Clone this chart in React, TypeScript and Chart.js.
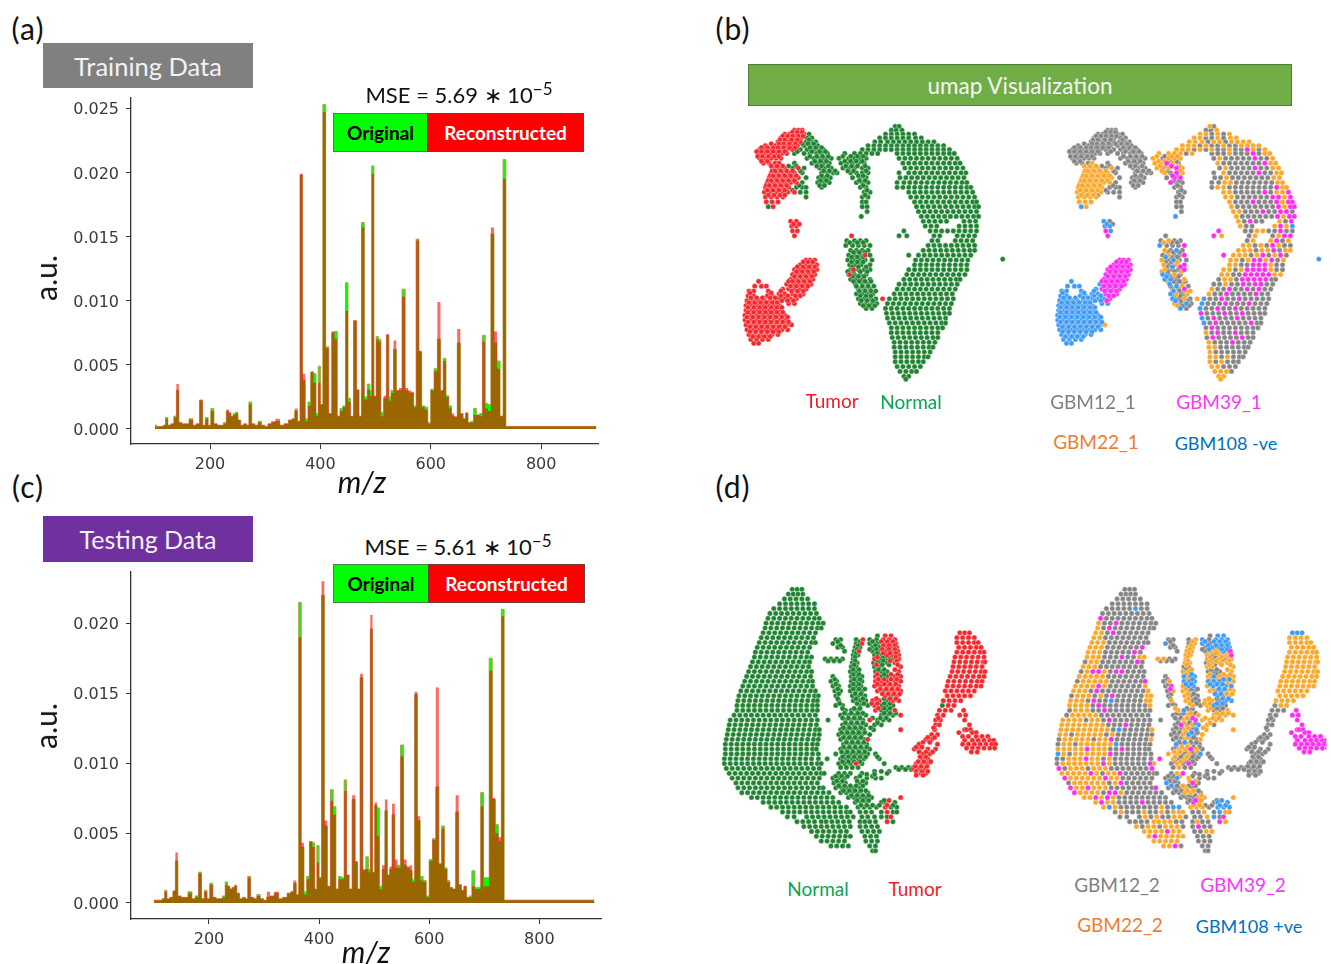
import React, { useEffect, useRef } from "react";
import { Chart, registerables } from "chart.js";
Chart.register(...registerables);

// ---- spectra: m/z stations and intensities (in thousandths of a.u.)
const mzStations = [
  100,106,112,118,121,126,132,137,141,146,
  152,158,166,172,178,184,189,194,199,204,
  210,216,222,227,232,236,240,244,248,253,
  258,264,268,273,278,284,290,296,302,308,
  314,323,330,338,346,351,356,361,365,370,
  375,380,385,390,394,398,402,407,412,418,
  423,428,433,438,443,448,452,457,463,468,
  472,477,482,488,491,495,499,503,507,512,
  517,522,526,530,535,540,545,551,556,562,
  567,571,576,581,586,592,597,603,609,615,
  620,625,630,635,640,645,651,656,661,665,
  670,675,680,686,691,696,701,706,712,717,
  723,728,734,738,745,900];
const trainOriginal = [
  .3,.2,.2,.3,.9,.3,.4,1.0,3.0,.5,
  .4,.4,.8,.3,.4,2.2,.3,.9,.3,1.6,
  .4,.3,.3,.5,1.4,1.2,1.0,1.2,1.3,.7,
  .3,.4,.3,2.1,.4,.3,.6,.3,.2,.4,
  .5,.6,.3,.4,.7,.8,1.4,.6,19.8,3.8,
  .8,2.1,4.4,4.3,1.2,4.9,1.9,25.3,6.4,1.2,
  7.5,7.6,1.0,1.6,1.8,11.4,2.4,1.0,8.4,3.0,
  1.0,16.1,2.5,3.5,3.0,20.5,2.5,7.2,7.0,1.3,
  2.4,7.3,2.5,3.0,6.2,3.0,3.0,10.9,3.0,2.8,
  2.8,1.8,14.8,6.0,1.8,1.7,.5,3.1,4.7,7.0,
  3.0,5.5,2.6,1.8,1.0,.9,6.7,1.2,.8,1.2,
  .5,.6,1.6,1.1,1.2,7.3,2.0,1.9,15.2,6.7,
  5.3,1.0,21.0,.2,.2,.2];
const trainReconstructed = [
  .2,.2,.2,.3,.8,.3,.4,.9,3.5,.5,
  .4,.4,.7,.3,.4,2.3,.3,.8,.3,1.4,
  .4,.3,.3,.4,1.5,1.3,1.0,1.1,1.2,.7,
  .3,.4,.3,1.9,.4,.3,.5,.3,.2,.4,
  .6,.8,.3,.4,.7,.8,1.6,.6,19.9,4.3,
  .6,1.8,4.5,3.6,1.0,3.6,1.9,24.7,6.3,1.2,
  7.6,7.0,1.0,1.4,1.7,9.2,2.1,1.0,8.5,3.1,
  1.0,15.7,2.3,3.1,2.6,19.9,2.6,7.0,6.8,1.0,
  2.6,7.4,2.2,2.8,6.9,3.0,3.2,10.3,3.2,3.0,
  2.9,1.7,14.7,6.1,1.7,1.5,.4,3.0,4.5,9.9,
  3.0,5.3,2.5,1.6,1.2,1.0,7.8,1.2,.8,1.3,
  .5,.5,1.1,1.1,1.0,6.8,1.6,1.4,15.7,7.6,
  4.7,1.0,19.5,.2,.2,.2];
const testOriginal = [
  .2,.2,.2,.3,.9,.3,.4,.8,3.0,.5,
  .4,.4,.8,.3,.5,2.2,.3,.9,.3,1.4,
  .4,.3,.3,.5,1.5,1.2,1.0,1.1,1.2,.7,
  .3,.4,.3,1.9,.4,.3,.6,.3,.2,.4,
  .5,.7,.3,.4,.7,.8,1.4,.6,21.5,4.0,
  .8,1.9,4.4,4.3,1.0,4.1,1.8,22.0,5.5,1.2,
  8.1,6.9,1.0,1.9,1.8,8.8,2.0,1.0,7.4,2.9,
  1.0,16.1,2.3,3.3,2.4,19.6,2.2,7.0,6.8,1.2,
  2.4,6.6,2.0,2.4,6.3,2.5,2.7,11.3,2.7,2.5,
  2.3,1.7,14.9,5.9,1.9,1.6,.5,3.1,4.6,8.3,
  2.8,5.5,2.5,1.6,1.1,1.0,6.5,1.3,.9,1.2,
  .4,.5,2.3,1.1,1.1,7.9,1.8,1.8,17.5,7.4,
  5.6,4.4,21.0,.2,.2,.2];
const testReconstructed = [
  .2,.2,.2,.3,.8,.3,.4,.9,3.6,.5,
  .4,.4,.7,.3,.4,2.1,.3,.8,.3,1.3,
  .4,.3,.3,.4,1.3,1.2,1.0,1.1,1.3,.7,
  .3,.4,.3,1.8,.4,.3,.5,.3,.2,.8,
  .5,.8,.3,.4,.7,.8,1.6,.6,19.0,4.3,
  .6,1.7,4.4,4.0,1.0,2.9,1.8,23.0,5.9,1.2,
  7.3,6.3,1.0,1.7,1.7,8.0,2.0,1.0,7.7,3.0,
  1.0,16.4,2.4,2.4,2.2,20.6,2.2,7.2,4.8,1.0,
  2.7,7.4,2.0,2.6,7.1,3.1,2.5,10.5,3.1,2.6,
  2.7,1.5,15.1,6.2,1.6,1.5,.4,3.0,4.5,15.4,
  2.8,5.3,2.4,1.5,1.1,1.0,7.7,1.3,.9,1.2,
  .4,.4,1.2,1.0,1.0,6.9,1.2,1.2,16.6,7.5,
  5.0,4.7,20.5,.2,.2,.2];
const xTickValues = [200, 400, 600, 800];
const trainYTicks = [0, .005, .01, .015, .02, .025];
const testYTicks = [0, .005, .01, .015, .02];

// ---- umap points, read row by row. [y, class, x, x, class, x ...]
// class letters: g GBM12, o GBM22, m GBM39, b GBM108; upper case = Tumor, lower case = Normal
type Row = (number | string)[];
const trainRows: Row[] = [
  [12,"o",176,"g",180],
  [16,"G",72,76,80,"g",172,177,"o",183],
  [20,"G",62,67,72,77,82,"g",87,"o",166,172,"g",178,"o",184,"g",190,"o",196],
  [24,"G",58,63,68,74,79,"g",85,90,"o",160,166,"g",172,178,"o",184,"g",190,"o",197,203],
  [28,"G",55,60,66,72,78,"g",84,89,94,"o",155,161,168,"g",174,"o",180,186,"g",192,"o",198,204,210,216],
  [32,"G",42,52,58,63,69,75,"g",82,90,96,"o",148,154,160,"g",166,"o",172,"g",178,184,"o",190,"g",196,202,"o",208,214,220,226],
  [36,"G",36,41,46,52,58,64,70,"g",78,85,92,97,102,"o",142,148,154,"g",160,"o",166,"g",172,"o",178,"g",184,190,"o",196,"g",202,208,"m",214,"o",220,"g",226,"o",232],
  [40,"G",35,41,47,53,59,64,"g",72,82,88,95,100,106,"o",124,134,140,146,"g",152,"o",158,"g",178,184,190,"o",196,"g",202,208,214,"m",220,"g",226,"o",232,237],
  [45,"G",36,42,48,53,58,"g",85,92,98,103,110,"o",118,"g",128,"o",134,140,146,"g",180,"o",186,"g",192,198,204,210,216,"m",222,"g",228,234,"o",240],
  [50,"G",40,46,52,"O",56,"g",72,90,96,102,108,"o",120,126,"m",132,"o",138,"g",144,"o",184,"g",190,196,202,208,214,220,226,"m",232,"o",238,243],
  [55,"O",50,56,62,"g",70,"O",76,"g",82,98,103,110,"o",122,"g",128,"o",134,"m",142,"o",148,"g",186,"o",192,"g",198,204,210,216,"m",222,"g",228,234,"o",240,246],
  [60,"O",48,54,60,66,72,"g",80,100,106,112,116,"o",130,"g",136,"m",142,"o",148,"g",180,"o",190,"g",196,202,208,214,220,"m",226,"g",232,238,"o",244,249],
  [65,"O",46,52,58,64,70,76,"g",84,97,103,109,132,"m",140,146,"g",181,187,"o",193,"g",199,205,211,217,223,229,235,"o",241,247],
  [70,"O",44,50,56,62,68,74,"g",80,96,102,108,"m",136,"g",142,148,178,185,"o",191,197,"g",203,209,215,221,227,233,239,"o",245,250],
  [75,"O",42,48,54,60,66,"g",74,80,84,100,140,146,178,"o",184,190,"g",196,202,208,214,220,226,232,238,"m",244,"o",250,254],
  [80,"O",41,47,53,59,65,"G",72,"g",78,84,144,150,"o",190,196,"g",202,208,214,220,226,"m",232,"g",238,"o",244,250,"m",256],
  [85,"O",42,48,54,60,"g",84,142,148,"o",192,198,"g",204,210,216,222,228,234,"m",240,246,"o",252,"m",258],
  [90,"O",43,49,55,"g",142,146,"o",196,"g",202,208,214,"m",220,"g",226,232,238,"m",244,"o",250,"m",256,260],
  [95,"b",45,"O",50,"g",142,147,"o",198,"g",204,210,216,222,228,234,240,"m",246,"o",252,"m",258,262],
  [100,"g",147,"o",200,206,"g",212,218,224,"m",230,"g",236,242,"m",248,254,"g",260],
  [105,"b",141,"o",203,"g",209,215,221,227,233,239,"m",245,"o",251,"m",257,262],
  [110,"B",68,"G",74,"o",205,"g",211,"m",217,"g",223,229,"o",247,"g",253,"m",259],
  [115,"B",69,74,"o",207,"g",213,219,"o",242,"m",248,"o",254,"b",260],
  [120,"M",70,"B",75,"m",185,"g",212,218,"o",224,230,"g",236,242,"m",248,"g",254,260],
  [125,"M",72,"G",131,"m",180,"o",188,"g",216,"o",222,"g",240,"o",246,"m",252,258],
  [130,"g",126,"o",134,"g",140,146,214,"o",220,238,"m",244,"g",250,"o",256],
  [135,"b",125,"g",132,138,144,"m",150,"o",210,216,"g",222,"o",228,"g",234,"m",240,"o",246,"g",252,258],
  [140,"o",130,"g",136,"b",142,"g",148,"o",205,211,217,"g",223,"o",229,235,"m",241,"g",247,"o",253,258],
  [145,"g",128,"o",134,"g",140,"G",145,"m",150,"m",190,"o",200,206,212,"g",218,"o",224,"m",230,"g",236,"o",242,"m",248,"g",254],
  [150,"M",84,88,93,"o",127,"g",133,"b",139,"g",145,152,"o",197,203,"g",209,"o",215,"m",221,227,"o",233,"m",239,"g",245,"o",251],
  [155,"M",78,84,90,95,"o",129,"g",135,"o",141,"m",150,"o",196,202,"g",208,214,"m",220,226,232,"o",238,"g",244,250],
  [160,"M",72,78,84,90,95,"o",130,"G",133,"g",138,144,"m",150,"o",190,196,"g",202,"o",208,"m",214,220,226,232,"o",238,"g",244,250],
  [165,"M",70,76,82,88,93,"b",128,"G",129,"g",134,"o",140,"g",146,"o",188,194,"g",200,206,"m",212,218,224,230,236,"o",242,248],
  [170,"M",68,74,80,86,91,"b",130,136,"g",142,"o",150,"g",185,"o",191,197,"g",203,"m",209,215,221,227,233,"g",239,243],
  [172,"B",35],
  [175,"B",64,"M",72,78,84,89,"b",135,"g",142,148,"g",180,186,"o",192,"g",198,204,"m",210,"g",216,"m",222,228,"g",234,240],
  [177,"B",31,38,43],
  [180,"B",60,"M",66,72,78,84,"g",138,144,"m",150,"o",178,"g",184,190,"m",196,"g",202,208,"m",214,"g",220,"m",226,"g",232,238],
  [182,"B",25,30,45],
  [185,"B",56,62,"M",70,76,81,"b",136,"o",142,"g",148,"o",153,"o",175,"g",181,187,"m",193,"g",199,205,211,217,"m",223,"g",229,235],
  [187,"B",24,30,44,49],
  [190,"B",55,62,68,"M",74,"b",138,"g",144,"o",150,"g",156,"O",163,"b",170,"g",176,182,"m",188,"g",194,200,"m",206,"g",212,218,224,230,236],
  [192,"B",23,29,35,41,47,52],
  [195,"B",66,72,"o",140,"g",146,"b",152,"g",157,"b",168,"g",174,180,186,"m",192,"g",198,204,210,"m",216,"g",222,228,234],
  [197,"B",22,28,34,40,46,52,56],
  [200,"b",146,"g",152,"b",166,"g",172,178,"m",184,"g",190,196,"m",202,"g",208,214,220,226,232],
  [202,"B",22,28,34,40,46,52,58],
  [205,"m",167,"g",173,179,185,"m",191,"g",197,203,"m",209,"g",215,221,227,232],
  [207,"B",21,27,33,39,45,51,57,62],
  [210,"b",168,"g",174,"m",180,"g",186,192,198,"m",204,"g",210,216,222,228],
  [212,"B",21,27,33,39,45,51,57,63],
  [215,"b",170,"g",176,"m",182,"g",188,194,200,206,212,"m",218,"g",224,228],
  [217,"B",22,28,34,40,46,52,58,64,"O",69],
  [220,"g",172,"m",178,"g",184,190,196,202,208,214,220,225],
  [222,"B",23,29,35,41,47,53,59,65],
  [225,"o",172,"g",178,"m",184,"g",190,196,"m",202,"g",208,214,220],
  [227,"B",25,31,37,43,49,55],
  [230,"g",173,"m",179,"g",185,191,197,203,"m",209,"g",215,220],
  [232,"B",27,33,39,45],
  [235,"o",175,"g",181,187,193,"m",199,"g",205,211,217],
  [236,"B",30,35],
  [240,"o",175,181,"g",187,193,199,205,211,215],
  [245,"o",176,"g",182,188,194,200,206,212],
  [250,"o",176,182,"g",188,"o",194,"g",200,206,210],
  [255,"o",176,"g",182,"o",188,"g",194,200,205],
  [260,"o",178,184,"g",190,196,202],
  [265,"o",181,187,193,"g",198],
  [270,"o",185,190],
  [273,"o",187],
  [149,"b",287],
  // second pass over the sparser clusters
  [18,"G",70,75,80],[22,"G",60,65,70,76,81],[26,"G",57,62,69,75,"g",87],
  [30,"G",48,56,61,67,73,"g",80,86,92],[34,"G",38,44,50,55,61,67,73,"g",88,94,100],
  [38,"G",33,38,44,50,56,62,"g",75,90,98,104],
  [43,"G",34,39,45,51,56,"g",88,95,101,107,"o",122,"g",130,"o",137,143],
  [48,"G",38,44,"g",93,99,105,"o",124,130,"g",136,142],
  [53,"O",48,54,60,"g",66,74,95,100,107,"o",125,131,"m",137,"o",145],
  [58,"O",49,52,58,64,70,"g",78,102,108,114,"o",127,"g",133,"o",146],
  [63,"O",47,50,56,62,68,74,"g",100,106,"m",138,"g",143],
  [68,"O",45,48,54,60,66,72,"g",99,105,139,145],
  [73,"O",43,46,52,58,64,"g",77,98,103,143],
  [78,"O",44,50,56,62,"g",70,147],[83,"O",45,51,57,"G",62,"g",145],
  [113,"B",71,"G",77],
  [132,"o",129,"g",137,143],[142,"g",133,139,145],[147,"b",131,"g",137,143],
  [152,"g",131,137,"o",143],[157,"g",132,"b",138,"m",146],[162,"o",127,"g",133,140,"o",147],
  [167,"b",132,"g",138,144],[172,"o",133,"g",139,145,151],[177,"g",136,"b",142,"o",148,"g",154],
  [182,"b",139,"g",145,"o",151,156],[187,"g",140,146,151],[192,"b",141,"g",147,153],[197,"o",143,"g",149,155],
  [184,"B",26,48],[189,"B",27,33,39,47,52],[194,"B",25,31,37,43,49,54],[199,"B",24,30,36,42,48,54,59],
  [204,"B",24,30,36,42,48,54,60],[209,"B",23,29,35,41,47,53,59,65],[214,"B",24,30,36,42,48,54,60,66],
  [219,"B",26,32,38,44,50,56,62],[224,"B",26,32,38,44,50,56],[229,"B",29,35,41,47],
  [152,"M",81,86,91],[157,"M",75,81,87,93],[162,"M",74,80,86,92],[167,"M",72,78,84,90],
  [172,"M",66,70,76,82,88],[177,"M",68,74,80,86],[182,"B",58,"M",69,75,81],[187,"B",58,65,"M",73,78],[192,"B",59,65,"M",71],
];
const testRows: Row[] = [
  [15,"g",80,85,90],
  [20,"g",76,81,86,91],
  [25,"g",72,78,84,90,96],
  [30,"g",67,73,79,85,91,97,103],
  [35,"g",61,67,73,79,85,"b",91,"g",97,103],
  [40,"g",57,63,69,75,81,87,93,99,105],
  [45,"m",55,"g",61,67,73,79,85,91,97,103,108],
  [50,"o",53,"g",59,65,"m",71,"g",77,83,89,95,101,107,112],
  [55,"o",52,"g",58,"m",64,"g",70,76,82,88,94,100,106,110],
  [60,"o",50,56,"g",62,"m",68,"g",74,80,86,92,98,104,"B",253,258,263],
  [65,"o",48,54,"g",60,66,72,78,84,90,96,102,"O",250,256,262,268],
  [70,"o",46,52,58,"g",64,70,76,82,88,94,100,104,"O",250,256,262,268,272],
  [75,"o",44,50,56,"g",62,68,74,80,86,92,"m",98,"O",252,258,264,270,275],
  [80,"o",42,48,54,"g",60,66,72,78,84,"m",90,"g",96,"O",250,256,262,268,274,278],
  [85,"o",41,47,53,"g",59,65,71,"m",77,"g",83,89,"o",95,100,"O",248,254,260,266,272,278],
  [90,"g",39,"o",45,51,"g",57,63,69,75,81,87,"m",93,"g",98,"O",247,253,259,265,271,277,279],
  [95,"o",37,43,49,"g",55,61,67,73,79,85,91,97,"O",246,252,258,264,270,276],
  [100,"g",35,"o",41,"m",47,53,"o",59,"g",65,"m",71,77,"g",83,89,95,100,"O",245,251,257,263,269,275,279],
  [105,"o",33,39,45,51,57,"g",63,69,75,81,87,93,99,"O",243,249,255,261,267,273,278],
  [110,"g",31,"o",37,43,49,55,61,"g",67,73,79,85,91,97,"m",101,"O",241,247,253,259,265,271,276],
  [115,"o",29,35,41,47,"m",53,"o",59,"g",65,71,77,83,89,95,"o",101,"O",240,246,252,258,264,270,275],
  [120,"o",27,33,39,"g",45,"m",51,"g",57,63,69,75,81,87,93,99,"o",104,"O",238,244,250,256,262,268],
  [125,"g",25,"o",31,37,43,"g",49,"o",55,"g",61,"m",67,"g",73,79,85,91,97,"o",103,107,"O",240,246,252,258,264],
  [130,"o",24,30,36,"g",42,"m",48,"g",54,60,"b",66,"g",72,78,84,90,96,"o",102,106,"O",236,242,248,254],
  [135,"o",23,29,35,41,"g",47,"m",53,"g",59,65,71,77,83,89,95,101,"o",106,"g",235,"O",241,247],
  [140,"g",23,"o",29,35,41,"g",47,53,"m",59,"g",65,71,77,83,89,95,101,106,"G",232,238,244,"M",257],
  [145,"g",20,"o",26,32,38,44,50,"g",56,62,68,74,80,86,92,98,104,"G",230,236,"M",253,259],
  [150,"o",16,22,28,34,"g",40,"o",46,52,"g",58,"m",64,"g",70,76,82,88,94,100,106,"G",228,233,"M",258],
  [155,"o",15,21,27,33,39,45,51,57,"g",63,69,75,"m",81,"g",87,93,99,105,"G",228,232,"M",263],
  [160,"o",14,20,26,32,38,44,50,56,62,"g",68,"b",74,"g",80,86,92,98,104,"o",108,"G",227,"M",258,260,264],
  [163,"M",252,266,270],
  [165,"o",13,19,"g",25,"o",31,37,43,49,55,"g",61,"o",67,"g",73,79,85,91,97,103,108,"G",224,230],
  [167,"M",256,262,270,276,282],
  [170,"g",12,"o",18,24,30,36,42,"g",48,"o",54,60,"m",66,"g",72,78,84,90,96,102,"o",107,"G",218,224],
  [171,"M",258,266,272,278,284,288],
  [175,"g",11,"o",17,23,"g",29,"o",35,41,47,53,59,65,"b",71,"g",77,83,89,95,101,106,"G",211,230,"M",256,262,268,274,280,286,290],
  [179,"M",260,266,272,278,284,289],
  [180,"o",11,17,23,29,35,"m",41,"o",47,53,59,"g",65,71,"m",77,"g",83,89,95,101,105,"G",206,212,220,228],
  [183,"M",265,271],
  [185,"b",11,"o",17,"g",23,"o",29,35,41,47,53,59,"m",65,"g",71,77,83,89,95,101,107,"G",215,222],
  [190,"g",10,16,"o",22,28,34,"m",40,"o",46,52,"g",58,"o",64,"g",70,76,82,88,94,100,107,"G",214,220],
  [195,"g",10,"o",16,22,28,34,40,46,52,"m",58,"o",64,"g",70,76,82,88,94,100,"m",106,"o",110,"G",208,214,220],
  [200,"m",12,"g",18,"o",24,30,36,"g",42,"o",48,54,60,"g",66,72,78,84,90,96,102,"m",108,"G",205,211,217],
  [205,"o",15,21,27,33,39,"m",45,"o",51,"g",57,"o",63,69,"m",75,"g",81,87,93,99,105,110,"G",213,218],
  [210,"m",18,"o",24,30,36,42,48,54,"m",60,"o",66,72,"g",78,84,90,96,102,108],
  [215,"g",22,"o",28,34,40,46,52,58,"g",64,"o",70,"m",76,"g",82,88,94,100,106],
  [220,"m",24,"o",30,36,"m",42,"o",48,54,60,"g",66,72,78,84,90,96,102,108,"m",112],
  [225,"m",28,"o",34,40,46,52,"g",58,"m",64,70,"o",76,"g",82,88,94,100,106,112,118],
  [230,"o",38,44,"m",50,"o",56,"m",62,"o",68,"g",74,80,86,92,98,104,110,116,122,"O",192],
  [235,"o",50,"m",56,"o",62,68,"g",74,80,86,92,"m",98,"g",104,110,116,122,128],
  [240,"o",58,"b",64,"o",70,"g",76,82,88,94,100,106,112,"o",118,"g",124,"b",130,136],
  [245,"g",70,"o",76,"g",82,88,94,"o",100,"g",106,112,"o",118,"g",124,"o",130,136,140],
  [250,"g",75,82,95,"o",101,"g",107,"o",113,"g",119,125,"o",131,137,"g",143],
  [255,"g",85,91,97,103,"o",110,115,121,127,"g",133,139,150,"o",155],
  [260,"o",92,"g",98,"o",104,110,"g",116,"o",122,128,134,"g",140,150,"m",156,"g",162,168],
  [265,"o",100,106,112,118,"m",124,"o",130,136,"g",152,158,"o",164,170],
  [270,"o",105,"m",111,"o",117,123,129,135,140,"g",155,161,167],
  [275,"o",110,116,122,128,134,"g",156,162,168],
  [280,"o",120,126,"m",132,"g",138,160,166],
  [285,"g",163,166],
  [63,"g",168,"B",176,182],
  [67,"g",125,130,146,"O",153,"b",160,"g",167,"B",174,180,186],
  [71,"b",122,"g",128,146,"O",152,"b",160,"g",168,"B",176,182,187],
  [75,"g",127,132,"o",145,150,"g",163,"b",170,"B",178,184,188],
  [79,"g",134,"o",144,"O",149,"g",163,"o",169,"O",176,"B",182,"M",189],
  [83,"o",143,148,165,"g",171,"O",178,184,"M",190],
  [87,"o",114,120,"g",126,132,"o",143,"O",165,"g",171,"o",177,"g",183,"O",190],
  [91,"o",142,147,"g",164,"o",170,178,"O",186],
  [95,"g",141,146,"o",165,170,"O",192],
  [100,"o",140,146,"g",166,172,178,"O",190],
  [105,"g",122,"b",141,"g",147,"b",152,"O",166,"b",172,"o",178,"O",186,192],
  [110,"g",120,"o",126,"b",141,147,152,"B",166,172,178,"O",186,192],
  [115,"g",122,"m",128,"o",140,"b",146,151,"O",165,"B",171,178,184,190],
  [120,"g",124,"o",130,140,"g",146,152,"O",168,"g",174,"B",180,"O",186,192],
  [125,"g",125,"o",142,"g",148,155,"B",176,"g",182,"O",188],
  [130,"o",128,143,"g",150,156,"O",163,170,"g",178,"B",184,190],
  [135,"g",125,132,"o",150,"g",158,"O",165,"b",172,"g",178,184],
  [140,"o",135,"b",141,"g",147,"O",166,"g",172,178,"O",186],
  [145,"g",130,138,"o",145,"g",150,"o",156,172,"g",178,"o",184,"O",192],
  [150,"g",117,135,"o",141,"g",147,"m",153,"O",160,"o",168,174,180],
  [155,"g",132,"m",138,"g",144,"o",150,"b",156,"o",165,"g",172],
  [160,"g",130,136,"o",142,"g",148,"b",154,"o",164,"O",192],
  [165,"g",128,134,"o",140,"b",146,"g",152,"o",160],
  [170,"g",130,136,"o",142,"g",148,154,"O",158],
  [175,"b",133,"g",139,"o",145,"g",151,157],
  [180,"g",130,"o",136,142,"m",148,"o",154,"g",160],
  [185,"o",125,134,"g",140,"o",146,"g",152,"b",158,"g",166],
  [190,"m",116,"o",130,"g",136,"o",142,"g",148,154,170],
  [195,"g",128,"o",134,"g",140,"M",146,"g",152,175],
  [199,"g",130,"o",136,"g",142,148,187,193,200,205],
  [203,"g",180,172,165],
  [205,"g",113,128,"o",134,"m",140,"g",152,178],
  [210,"g",122,128,"b",134,"o",146,"g",157,166,172],
  [215,"b",123,"g",129,135,"m",150,"g",156],
  [220,"g",125,131,137,"o",143,"g",150],
  [225,"g",130,136,"o",142,148,"g",158],
  [230,"g",138,144,150,"o",156,162],
  [235,"g",145,"m",151,"o",157,"g",172,"b",176,186],
  [240,"o",148,154,160,"g",167,"B",176,"b",182,188],
  [245,"g",150,156,"o",162,"g",172,"B",178,"o",184,188],
  [250,"g",152,158,"o",165,"b",172,"g",178,"M",182],
  [255,"g",160,166,"M",178,"o",184],
  // second pass over the sparser clusters
  [148,"G",231],[158,"G",226],[168,"G",220,227],[173,"G",215,222],[178,"G",208,214],[183,"G",211,218,225],
  [188,"G",212,218],[193,"G",210,216,223],[198,"G",207,213,219],[203,"G",208,214,220],[207,"G",208,215],
  [69,"g",127,"o",150,"b",163,"B",172,178,184],[73,"g",130,"o",148,"b",166,"B",174,180,186],
  [77,"o",147,"g",160,"b",167,"O",173,"B",180,186],[81,"o",146,"g",168,"O",174,181,187],
  [85,"o",145,"O",168,"g",174,"o",180,"O",187],[89,"g",117,123,129,"o",145,"g",167,"o",174,"O",181,188],
  [93,"o",144,"O",167,"g",173,"o",180,"O",189],[98,"g",143,"o",149,"g",169,175,"O",186],
  [103,"o",143,"b",149,"O",168,"g",175,"O",182,189],[108,"g",124,"o",144,"b",150,"O",169,175,"B",182,188],
  [113,"g",125,"b",143,149,"B",168,175,181,"O",187],[118,"m",127,"o",143,"g",149,155,"O",171,"B",177,183,"O",189],
  [123,"g",128,"o",145,"g",151,"B",173,179,"O",185,191],[128,"g",127,"o",146,"g",153,"O",167,"g",175,"B",181,187],
  [133,"g",129,"o",147,"g",154,"O",162,168,"b",175,181],[138,"o",132,"g",144,150,"O",169,"g",175,181],
  [143,"g",134,141,"o",148,"g",153,"o",175,181,187],[148,"g",132,138,"o",144,"m",150,"o",163,171,177],
  [153,"g",135,"o",141,"g",147,"b",153,"o",168],[158,"g",133,139,"o",145,"g",151,"o",161],
  [163,"g",131,137,"o",143,"b",149,"g",155],[168,"g",133,139,"o",145,"g",151],[173,"g",136,"b",142,"g",148,154],
  [178,"g",133,"o",139,145,"g",151,157],[183,"o",131,137,"g",143,149,"o",155],[188,"o",132,"g",138,"o",144,"g",150,156,168],
  [193,"g",132,"o",138,"g",144,150],[208,"g",125,131,"o",137,"g",150,163],[213,"g",126,132,"o",147,153],
  [218,"b",128,"g",134,"o",140,"g",146,153],[223,"g",133,139,"o",145,151,"g",156],[228,"g",141,147,153,"o",159],
  [233,"g",147,"m",153,"o",159,"g",175,"B",180],[238,"o",151,157,"g",163,170,"B",178,"b",184],
  [206,"g",157,165],[201,"g",190,197,203],
];

const lineColors: Record<string, string> = { g: "#858585", o: "#fba72a", m: "#ff2bf0", b: "#3f9bf5" };
const statusColors: Record<string, string> = { normal: "#1f8330", tumor: "#f4282d" };
const font = "Lato, 'Open Sans', sans-serif";

function expand(rows: Row[]) {
  const pts: { x: number; y: number; c: string }[] = [];
  for (const row of rows) {
    const y = row[0] as number;
    let c = "g";
    for (const v of row.slice(1)) {
      if (typeof v === "string") c = v;
      else pts.push({ x: v, y, c });
    }
  }
  return pts;
}

function makeUmap(canvas: HTMLCanvasElement, rows: Row[], mode: "status" | "line", xMin: number, xMax: number) {
  const pts = expand(rows);
  const pick = (f: (c: string) => boolean) => pts.filter((p) => f(p.c)).map((p) => ({ x: p.x, y: p.y }));
  const ds = (data: any[], color: string, order: number) => ({
    data, order, backgroundColor: color, borderColor: "rgba(255,255,255,0.5)",
    borderWidth: 0.7, pointRadius: 2.6,
  });
  const datasets = mode === "status"
    ? [ds(pick((c) => c === c.toLowerCase()), statusColors.normal, 1), ds(pick((c) => c !== c.toLowerCase()), statusColors.tumor, 0)]
    : [ds(pick((c) => c.toLowerCase() === "g"), lineColors.g, 3),
       ds(pick((c) => c.toLowerCase() === "o"), lineColors.o, 2),
       ds(pick((c) => c.toLowerCase() === "m"), lineColors.m, 0),
       ds(pick((c) => c.toLowerCase() === "b"), lineColors.b, 1)];
  return new Chart(canvas, {
    type: "scatter",
    data: { datasets },
    options: {
      animation: false, responsive: false, layout: { padding: 0 },
      plugins: { legend: { display: false }, tooltip: { enabled: false } },
      scales: {
        x: { type: "linear", display: false, min: xMin, max: xMax },
        y: { type: "linear", display: false, min: 0, max: 300, reverse: true },
      },
    },
  });
}

function makeSpectrum(canvas: HTMLCanvasElement, original: number[], recon: number[], yTicks: number[],
  xr: [number, number], yr: [number, number], leftW: number, bottomH: number, top: number, right: number) {
  const series = (vals: number[]) => vals.map((v, i) => ({ x: mzStations[i], y: v / 1000 }));
  const tickFont = { family: "'DejaVu Sans'", size: 16 };
  const line = (data: any[], color: string, edge: string, width: number, order: number) => ({
    data, order, showLine: true, fill: "origin", stepped: "middle", pointRadius: 0, borderWidth: width,
    backgroundColor: color, borderColor: edge,
  });
  return new Chart(canvas, {
    type: "scatter",
    data: { datasets: [
      line(series(original), "#00ff00", "#b59a4a", 1, 1),
      line(series(recon), "rgba(255,0,0,0.6)", "rgba(255,0,0,0)", 0, 0),
    ] as any },
    options: {
      animation: false, responsive: false,
      layout: { padding: { top, right, left: 0, bottom: 0 } },
      plugins: { legend: { display: false }, tooltip: { enabled: false } },
      scales: {
        x: {
          type: "linear", min: xr[0], max: xr[1],
          afterBuildTicks: (s: any) => { s.ticks = xTickValues.map((value) => ({ value })); },
          afterFit: (s: any) => { s.height = bottomH; s.paddingLeft = 0; s.paddingRight = 0; },
          ticks: { font: tickFont, color: "#3a3a3a", maxRotation: 0, padding: 6, callback: (v: any) => String(v) },
          grid: { drawOnChartArea: false, drawTicks: true, tickLength: 5, color: "#333" },
          border: { color: "#333", width: 1.3 },
        },
        y: {
          type: "linear", min: yr[0], max: yr[1],
          afterBuildTicks: (s: any) => { s.ticks = yTicks.map((value) => ({ value })); },
          afterFit: (s: any) => { s.width = leftW; s.paddingTop = 0; s.paddingBottom = 0; },
          ticks: { font: tickFont, color: "#3a3a3a", padding: 7, labelOffset: 2, callback: (v: any) => Number(v).toFixed(3) },
          grid: { drawOnChartArea: false, drawTicks: true, tickLength: 5, color: "#333" },
          border: { color: "#333", width: 1.3 },
        },
      },
    },
  });
}

const blur = "blur(0.55px)";

function Txt(p: { x: number; y: number; size: number; color?: string; weight?: number; italic?: boolean; rot?: number; spacing?: number; children: any }) {
  return (
    <div style={{
      position: "absolute", left: p.x, top: p.y, whiteSpace: "nowrap", fontFamily: font, fontSize: p.size,
      color: p.color ?? "#111", fontWeight: p.weight ?? 400, fontStyle: p.italic ? "italic" : "normal", lineHeight: 1,
      letterSpacing: p.spacing ?? 0, transform: `translate(-50%,-50%) rotate(${p.rot ?? 0}deg)`,
    }}>{p.children}</div>
  );
}

function Box(p: { x: number; y: number; w: number; h: number; bg: string; border?: string; color: string; size: number; weight?: number; children: any }) {
  return (
    <div style={{
      position: "absolute", left: p.x, top: p.y, width: p.w, height: p.h, boxSizing: "border-box", background: p.bg,
      border: `1px solid ${p.border ?? p.bg}`, display: "flex", alignItems: "center", justifyContent: "center",
      color: p.color, fontFamily: font, fontSize: p.size, fontWeight: p.weight ?? 400, whiteSpace: "nowrap",
    }}>{p.children}</div>
  );
}

function Mse(p: { x: number; y: number; value: string }) {
  return (
    <Txt x={p.x} y={p.y} size={22}>MSE = {p.value} ∗ 10<sup style={{ fontSize: 17, lineHeight: 0, verticalAlign: "0.5em" }}>−5</sup></Txt>
  );
}

export default function App() {
  const a = useRef<HTMLCanvasElement>(null);
  const c = useRef<HTMLCanvasElement>(null);
  const b1 = useRef<HTMLCanvasElement>(null);
  const b2 = useRef<HTMLCanvasElement>(null);
  const d1 = useRef<HTMLCanvasElement>(null);
  const d2 = useRef<HTMLCanvasElement>(null);
  useEffect(() => {
    const charts = [
      makeSpectrum(a.current!, trainOriginal, trainReconstructed, trainYTicks, [56.8, 903], [-0.00117, 0.0258], 71, 36, 8, 7),
      makeSpectrum(c.current!, testOriginal, testReconstructed, testYTicks, [58.4, 912], [-0.00115, 0.02367], 71, 45, 8, 7),
      makeUmap(b1.current!, trainRows, "status", 0, 300),
      makeUmap(b2.current!, trainRows, "line", -1.4, 294.6),
      makeUmap(d1.current!, testRows, "status", 0, 300),
      makeUmap(d2.current!, testRows, "line", -12, 288),
    ];
    return () => charts.forEach((ch) => ch.destroy());
  }, []);
  const cv = (l: number, t: number, w: number, h: number, r: any) => (
    <canvas ref={r} width={w} height={h} style={{ position: "absolute", left: l, top: t, width: w, height: h, filter: blur }} />
  );
  return (
    <div style={{ position: "absolute", left: 0, top: 0, width: 1331, height: 964, overflow: "hidden", background: "#fff" }}>
      {cv(60, 90, 545, 390, a)}
      {cv(60, 564, 548, 400, c)}
      {cv(720, 110, 300, 300, b1)}
      {cv(1031, 110, 300, 300, b2)}
      {cv(710, 570, 300, 300, d1)}
      {cv(1031, 570, 300, 300, d2)}

      <Txt x={28} y={28} size={30} spacing={1}>(a)</Txt>
      <Txt x={733} y={28} size={30} spacing={1}>(b)</Txt>
      <Txt x={28} y={486} size={30} spacing={1}>(c)</Txt>
      <Txt x={733} y={486} size={30} spacing={1}>(d)</Txt>

      <Box x={43} y={43} w={210} h={45} bg="#808080" color="#f2f2f2" size={25.5}>Training Data</Box>
      <Box x={43} y={516} w={210} h={46} bg="#7030a0" color="#f2f2f2" size={25}>Testing Data</Box>
      <Box x={748} y={64} w={544} h={42} bg="#70ad47" border="#507e32" color="#f5f5f5" size={22.5}>umap Visualization</Box>

      <Mse x={459} y={95} value="5.69" />
      <Box x={333} y={113} w={95} h={39} bg="#00ff00" border="#4d7f4d" color="#000" size={19} weight={700}>Original</Box>
      <Box x={427} y={113} w={157} h={39} bg="#ff0000" border="#6d4040" color="#fff" size={19} weight={700}>Reconstructed</Box>
      <Mse x={458} y={547} value="5.61" />
      <Box x={333} y={564} w={96} h={39} bg="#00ff00" border="#4d7f4d" color="#000" size={19} weight={700}>Original</Box>
      <Box x={428} y={564} w={157} h={39} bg="#ff0000" border="#6d4040" color="#fff" size={19} weight={700}>Reconstructed</Box>

      <Txt x={45} y={278} size={30} rot={-90}>a.u.</Txt>
      <Txt x={45} y={726} size={30} rot={-90}>a.u.</Txt>
      <Txt x={362} y={481} size={30} italic>m/z</Txt>
      <Txt x={366} y={951} size={30} italic>m/z</Txt>

      <Txt x={832} y={399.5} size={19} color="#f01c24">Tumor</Txt>
      <Txt x={911} y={400.5} size={19} color="#0aa54f">Normal</Txt>
      <Txt x={1093} y={400.5} size={19} color="#7f7f7f">GBM12_1</Txt>
      <Txt x={1219} y={400.5} size={19} color="#ff33ff">GBM39_1</Txt>
      <Txt x={1096} y={440.5} size={19} color="#ed7d31">GBM22_1</Txt>
      <Txt x={1226} y={442.5} size={18} color="#0070c0">GBM108 -ve</Txt>

      <Txt x={818} y={887.5} size={19} color="#0aa54f">Normal</Txt>
      <Txt x={915} y={887.5} size={19} color="#f01c24">Tumor</Txt>
      <Txt x={1117} y={883.5} size={19} color="#7f7f7f">GBM12_2</Txt>
      <Txt x={1243} y={883.5} size={19} color="#ff33ff">GBM39_2</Txt>
      <Txt x={1120} y={923.5} size={19} color="#ed7d31">GBM22_2</Txt>
      <Txt x={1249} y={925.5} size={18} color="#0070c0">GBM108 +ve</Txt>
    </div>
  );
}
